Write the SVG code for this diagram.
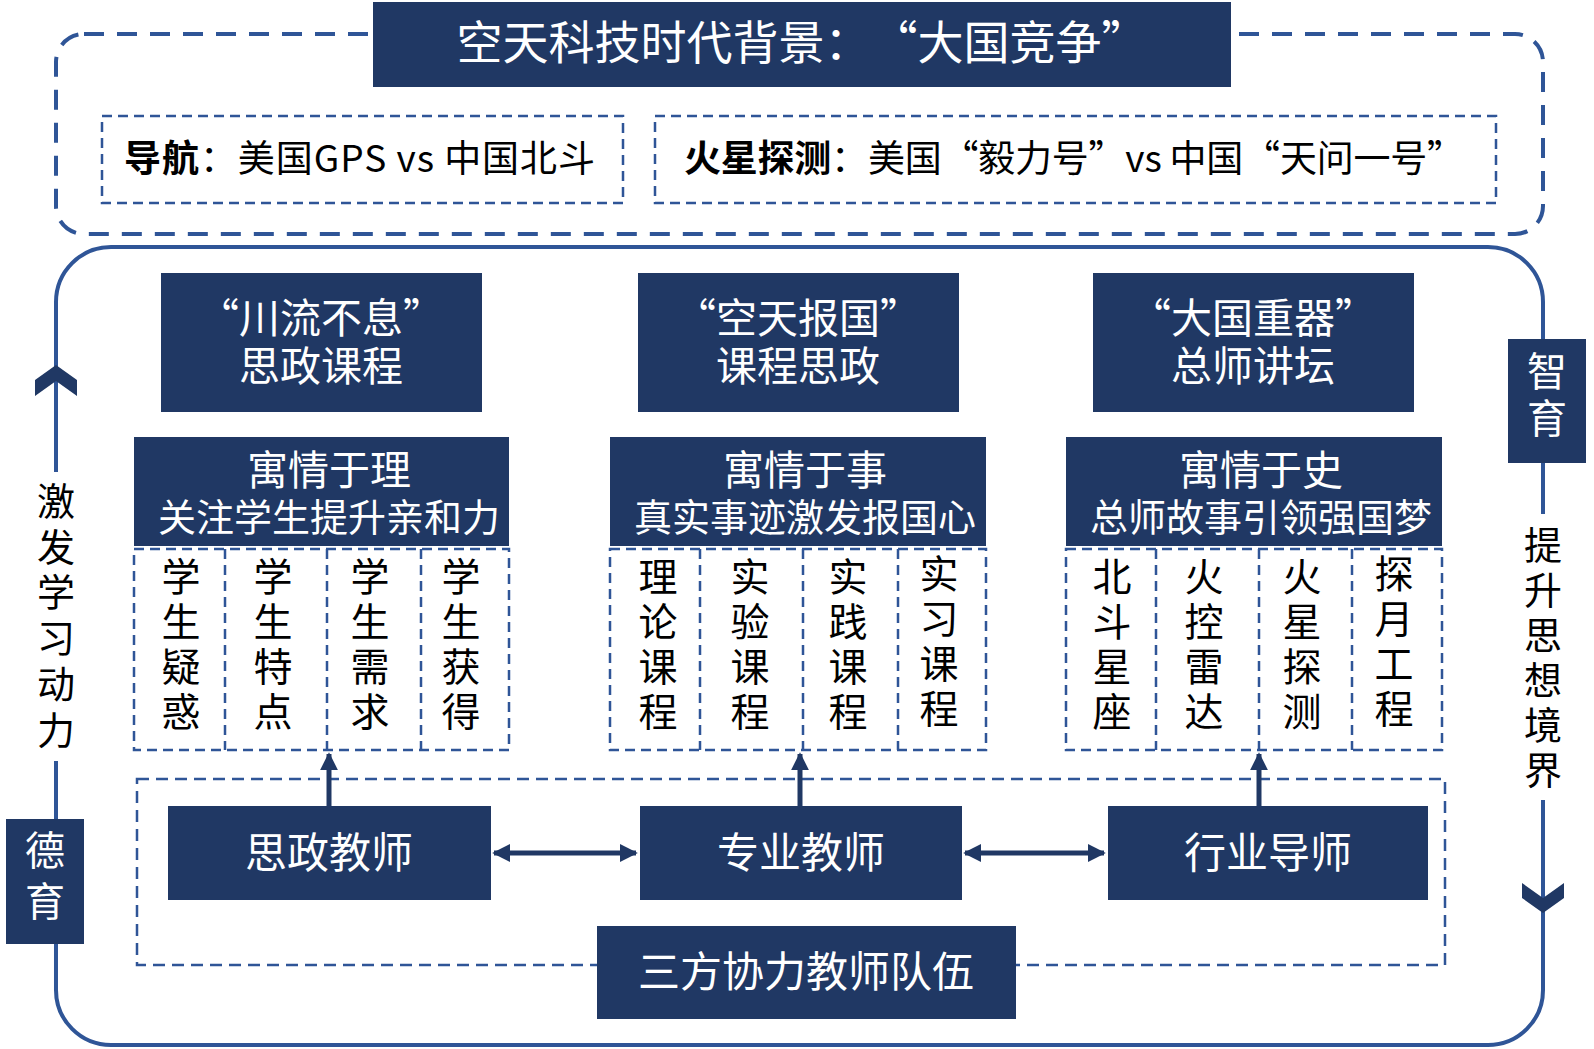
<svg xmlns="http://www.w3.org/2000/svg" width="1594" height="1049" viewBox="0 0 1594 1049">
<defs>
<style>
.nv{fill:#203864}
.wt{fill:#fff;font-family:"Noto Sans CJK SC","Noto Sans",sans-serif;text-anchor:middle;dominant-baseline:central}
.bk{fill:#000;font-family:"Noto Sans CJK SC","Noto Sans",sans-serif;dominant-baseline:central}
.vc{fill:#000;font-family:"Noto Sans CJK SC",sans-serif;text-anchor:middle;dominant-baseline:central;font-size:39px}
.side{fill:#000;font-family:"Noto Sans CJK SC",sans-serif;text-anchor:middle;dominant-baseline:central;font-size:38px}
.dash1{fill:none;stroke:#2F5597;stroke-width:4;stroke-dasharray:20 13}
.dash2{fill:none;stroke:#2F5597;stroke-width:2.5;stroke-dasharray:10 6}
.solid{fill:none;stroke:#2F5597;stroke-width:4}
.arr{stroke:#203864;stroke-width:5;fill:none}
.fw{font-feature-settings:"fwid"}
</style>
<marker id="ah" viewBox="0 0 10 10" refX="9" refY="5" markerWidth="3.6" markerHeight="3.6" markerUnits="strokeWidth" orient="auto-start-reverse">
<path d="M0,0 L10,5 L0,10 Z" fill="#203864"/>
</marker>
</defs>

<g id="background-frame">
<rect class="dash1" x="56" y="34" width="1487" height="200" rx="28"/>
<path class="solid" d="M56,472 V302 A55,55 0 0 1 111,247 H1488 A55,55 0 0 1 1543,302 V514 M1543,800 V990 A55,55 0 0 1 1488,1045 H111 A55,55 0 0 1 56,990 V761"/>
<polygon class="nv" points="56,365 77,380 77,396 56,381 35,396 35,380"/>
<polygon class="nv" points="1522,883 1543,898 1564,883 1564,898 1543,913 1522,898"/>
</g>

<g id="title">
<rect class="nv" x="373" y="2" width="858" height="85"/>
<text class="wt" x="802" y="39" font-size="46">空天科技时代背景：<tspan class="fw" dx="24">“</tspan>大国竞争<tspan class="fw">”</tspan></text>
</g>

<g id="nav">
<rect class="dash2" x="102" y="116" width="521" height="87"/>
<text class="bk" x="124" y="156" font-size="37" textLength="471" lengthAdjust="spacing"><tspan font-weight="bold">导航</tspan>：美国GPS vs 中国北斗</text>
</g>

<g id="mars">
<rect class="dash2" x="655" y="116" width="841" height="87"/>
<text class="bk" x="684" y="156" font-size="37" textLength="780" lengthAdjust="spacing"><tspan font-weight="bold">火星探测</tspan>：美国<tspan class="fw">“</tspan>毅力号<tspan class="fw">”</tspan>vs 中国<tspan class="fw">“</tspan>天问一号<tspan class="fw">”</tspan></text>
</g>

<g id="deyu">
<rect class="nv" x="6" y="819" width="78" height="125"/>
<text class="wt" x="45" font-size="40"><tspan x="45" y="848">德</tspan><tspan x="45" y="899">育</tspan></text>
</g>
<g id="left-label">
<text class="side"><tspan x="56" y="498">激</tspan><tspan x="56" y="544">发</tspan><tspan x="56" y="589">学</tspan><tspan x="56" y="635">习</tspan><tspan x="56" y="681">动</tspan><tspan x="56" y="727">力</tspan></text>
</g>
<g id="zhiyu">
<rect class="nv" x="1508" y="339" width="78" height="124"/>
<text class="wt" font-size="40"><tspan x="1547" y="369">智</tspan><tspan x="1547" y="416">育</tspan></text>
</g>
<g id="right-label">
<text class="side"><tspan x="1543" y="542">提</tspan><tspan x="1543" y="587">升</tspan><tspan x="1543" y="632">思</tspan><tspan x="1543" y="677">想</tspan><tspan x="1543" y="722">境</tspan><tspan x="1543" y="767">界</tspan></text>
</g>

<g id="course-a">
<rect class="nv" x="161" y="273" width="321" height="139"/>
<text class="wt" font-size="41"><tspan x="321" y="315">“川流不息”</tspan><tspan x="321" y="363">思政课程</tspan></text>
</g>
<g id="course-b">
<rect class="nv" x="638" y="273" width="321" height="139"/>
<text class="wt" font-size="41"><tspan x="798" y="315">“空天报国”</tspan><tspan x="798" y="363">课程思政</tspan></text>
</g>
<g id="course-c">
<rect class="nv" x="1093" y="273" width="321" height="139"/>
<text class="wt" font-size="41"><tspan x="1253" y="315">“大国重器”</tspan><tspan x="1253" y="363">总师讲坛</tspan></text>
</g>

<g id="head-d">
<rect class="nv" x="134" y="437" width="375" height="109"/>
<text class="wt"><tspan x="329" y="467" font-size="41">寓情于理</tspan><tspan x="329" y="514" font-size="38">关注学生提升亲和力</tspan></text>
</g>
<g id="head-e">
<rect class="nv" x="610" y="437" width="376" height="109"/>
<text class="wt"><tspan x="805" y="467" font-size="41">寓情于事</tspan><tspan x="805" y="514" font-size="38">真实事迹激发报国心</tspan></text>
</g>
<g id="head-f">
<rect class="nv" x="1066" y="437" width="376" height="109"/>
<text class="wt"><tspan x="1261" y="467" font-size="41">寓情于史</tspan><tspan x="1261" y="514" font-size="38">总师故事引领强国梦</tspan></text>
</g>

<g id="cells-d">
<rect class="dash2" x="134" y="549" width="375" height="201"/>
<path class="dash2" d="M225,549 V750 M327,549 V750 M421,549 V750"/>
<text class="vc"><tspan x="181" y="574">学</tspan><tspan x="181" y="619">生</tspan><tspan x="181" y="664">疑</tspan><tspan x="181" y="709">惑</tspan></text>
<text class="vc"><tspan x="273" y="574">学</tspan><tspan x="273" y="619">生</tspan><tspan x="273" y="664">特</tspan><tspan x="273" y="709">点</tspan></text>
<text class="vc"><tspan x="370" y="574">学</tspan><tspan x="370" y="619">生</tspan><tspan x="370" y="664">需</tspan><tspan x="370" y="709">求</tspan></text>
<text class="vc"><tspan x="461" y="574">学</tspan><tspan x="461" y="619">生</tspan><tspan x="461" y="664">获</tspan><tspan x="461" y="709">得</tspan></text>
</g>
<g id="cells-e">
<rect class="dash2" x="610" y="549" width="376" height="201"/>
<path class="dash2" d="M700,549 V750 M803,549 V750 M898,549 V750"/>
<text class="vc"><tspan x="658" y="574">理</tspan><tspan x="658" y="619">论</tspan><tspan x="658" y="664">课</tspan><tspan x="658" y="709">程</tspan></text>
<text class="vc"><tspan x="750" y="574">实</tspan><tspan x="750" y="619">验</tspan><tspan x="750" y="664">课</tspan><tspan x="750" y="709">程</tspan></text>
<text class="vc"><tspan x="848" y="574">实</tspan><tspan x="848" y="619">践</tspan><tspan x="848" y="664">课</tspan><tspan x="848" y="709">程</tspan></text>
<text class="vc"><tspan x="939" y="571">实</tspan><tspan x="939" y="616">习</tspan><tspan x="939" y="661">课</tspan><tspan x="939" y="706">程</tspan></text>
</g>
<g id="cells-f">
<rect class="dash2" x="1066" y="549" width="376" height="201"/>
<path class="dash2" d="M1156,549 V750 M1259,549 V750 M1352,549 V750"/>
<text class="vc"><tspan x="1112" y="574">北</tspan><tspan x="1112" y="619">斗</tspan><tspan x="1112" y="664">星</tspan><tspan x="1112" y="709">座</tspan></text>
<text class="vc"><tspan x="1204" y="574">火</tspan><tspan x="1204" y="619">控</tspan><tspan x="1204" y="664">雷</tspan><tspan x="1204" y="709">达</tspan></text>
<text class="vc"><tspan x="1302" y="574">火</tspan><tspan x="1302" y="619">星</tspan><tspan x="1302" y="664">探</tspan><tspan x="1302" y="709">测</tspan></text>
<text class="vc"><tspan x="1394" y="571">探</tspan><tspan x="1394" y="616">月</tspan><tspan x="1394" y="661">工</tspan><tspan x="1394" y="706">程</tspan></text>
</g>

<g id="team-frame">
<rect class="dash2" x="137" y="779" width="1308" height="186" style="stroke-dasharray:12 7"/>
</g>

<g id="connectors">
<line class="arr" x1="329" y1="806" x2="329" y2="754" marker-end="url(#ah)"/>
<line class="arr" x1="800" y1="806" x2="800" y2="754" marker-end="url(#ah)"/>
<line class="arr" x1="1259" y1="806" x2="1259" y2="754" marker-end="url(#ah)"/>
<line class="arr" x1="494" y1="853" x2="636" y2="853" marker-start="url(#ah)" marker-end="url(#ah)"/>
<line class="arr" x1="965" y1="853" x2="1104" y2="853" marker-start="url(#ah)" marker-end="url(#ah)"/>
</g>

<g id="teacher-sz">
<rect class="nv" x="168" y="806" width="323" height="94"/>
<text class="wt" x="329" y="849" font-size="42">思政教师</text>
</g>
<g id="teacher-zy">
<rect class="nv" x="640" y="806" width="322" height="94"/>
<text class="wt" x="801" y="849" font-size="42">专业教师</text>
</g>
<g id="teacher-hy">
<rect class="nv" x="1108" y="806" width="320" height="94"/>
<text class="wt" x="1268" y="849" font-size="42">行业导师</text>
</g>
<g id="team">
<rect class="nv" x="597" y="926" width="419" height="93"/>
<text class="wt" x="806" y="968" font-size="42">三方协力教师队伍</text>
</g>
</svg>
